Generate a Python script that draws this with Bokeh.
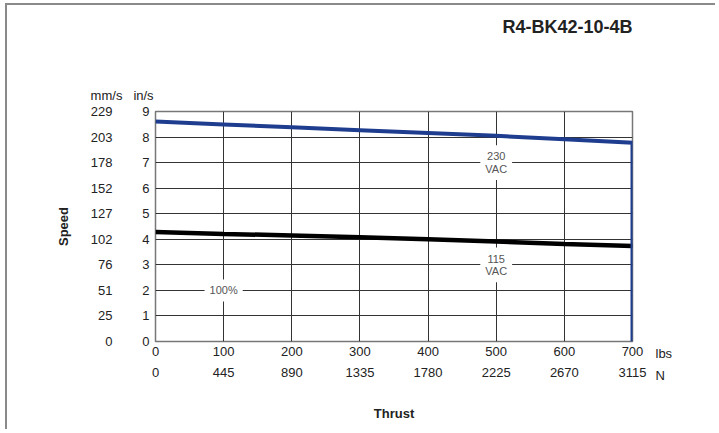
from bokeh.plotting import figure
from bokeh.models import LinearAxis, FixedTicker, Label
from bokeh.embed import file_html
from bokeh.resources import INLINE

# ---- data -----------------------------------------------------------------
lbs_ticks = [0, 100, 200, 300, 400, 500, 600, 700]
newton_labels = ["0", "445", "890", "1335", "1780", "2225", "2670", "3115"]
ins_ticks = [0, 1, 2, 3, 4, 5, 6, 7, 8, 9]
mms_labels = ["0", "25", "51", "76", "102", "127", "152", "178", "203", "229"]

thrust_230 = [0, 100, 200, 300, 400, 500, 600, 700, 700]
speed_230 = [8.61, 8.49, 8.38, 8.27, 8.16, 8.05, 7.91, 7.78, 0]
thrust_115 = [0, 100, 200, 300, 400, 500, 600, 700]
speed_115 = [4.28, 4.21, 4.15, 4.08, 4.00, 3.91, 3.82, 3.74]

title_text = "R4-BK42-10-4B"
FONT = "Liberation Sans"

p = figure(width=710, height=426, x_range=(0, 700), y_range=(0, 9),
           output_backend="svg", toolbar_location=None,
           min_border_left=148, min_border_right=85,
           min_border_top=106, min_border_bottom=90)
p.styles = {"border-top": "2px solid #8a8a8a", "border-left": "2px solid #8a8a8a",
            "margin-left": "5px", "margin-top": "3px"}
p.background_fill_color = "white"
p.border_fill_color = "white"
p.outline_line_color = "#777777"
p.outline_line_width = 1.5

def style_axis(ax, standoff):
    ax.major_tick_out = 0
    ax.major_tick_in = 0
    ax.minor_tick_out = 0
    ax.minor_tick_in = 0
    ax.axis_line_color = None
    ax.major_label_standoff = standoff
    ax.major_label_text_font = FONT
    ax.major_label_text_font_size = "13px"
    ax.major_label_text_color = "#222222"
    ax.axis_label_text_font = FONT
    ax.axis_label_text_font_size = "13px"
    ax.axis_label_text_font_style = "bold"
    ax.axis_label_text_color = "#222222"

# x axes
xa = p.xaxis[0]
xa.ticker = FixedTicker(ticks=lbs_ticks)
style_axis(xa, 5)
xn = LinearAxis(ticker=FixedTicker(ticks=lbs_ticks),
                major_label_overrides={t: s for t, s in zip(lbs_ticks, newton_labels)},
                axis_label="Thrust")
style_axis(xn, 9)
xn.axis_label_standoff = 26
p.add_layout(xn, "below")

# y axes
ya = p.yaxis[0]
ya.ticker = FixedTicker(ticks=ins_ticks)
style_axis(ya, 6)
ym = LinearAxis(ticker=FixedTicker(ticks=ins_ticks),
                major_label_overrides={t: s for t, s in zip(ins_ticks, mms_labels)},
                axis_label="Speed")
style_axis(ym, 27)
ym.axis_label_standoff = 17
p.add_layout(ym, "left")

# grid
p.xgrid.ticker = FixedTicker(ticks=lbs_ticks)
p.ygrid.ticker = FixedTicker(ticks=ins_ticks)
for g in (p.xgrid[0], p.ygrid[0]):
    g.grid_line_color = "#333333"
    g.grid_line_width = 1

# curves
p.line(thrust_115, speed_115, line_color="black", line_width=4.5)
p.line(thrust_230, speed_230, line_color="#1f3d8f", line_width=4, line_join="miter")

# curve labels
def curve_label(x, y, txt):
    p.add_layout(Label(x=x, y=y, text=txt, text_align="center", text_baseline="middle",
                       text_font=FONT, text_font_size="11px", text_color="#555555",
                       text_line_height=1.05,
                       background_fill_color="white", padding=5))

curve_label(500, 7, "230\nVAC")
curve_label(500, 3, "115\nVAC")
curve_label(100, 2, "100%")

# unit labels (placed in side panels so that they are not clipped to the frame)
def unit_label(x, y, dx, dy, txt, align, side):
    p.add_layout(Label(x=x, y=y, x_offset=dx, y_offset=dy, text=txt, text_align=align,
                       text_baseline="middle", text_font=FONT, text_font_size="13px",
                       text_color="#222222"), side)

unit_label(0, 9, -49, 16, "mm/s", "center", "above")
unit_label(0, 9, -12, 16, "in/s", "center", "above")
unit_label(700, 0, 23, -12, "lbs", "left", "right")
unit_label(700, 0, 23, -34, "N", "left", "right")

# title
p.add_layout(Label(x=700, y=9, y_offset=85, text=title_text, text_align="right",
                   text_baseline="middle", text_font=FONT, text_font_size="18px",
                   text_font_style="bold", text_color="#222222"), "above")

open("out.html", "w").write(file_html(p, INLINE))
